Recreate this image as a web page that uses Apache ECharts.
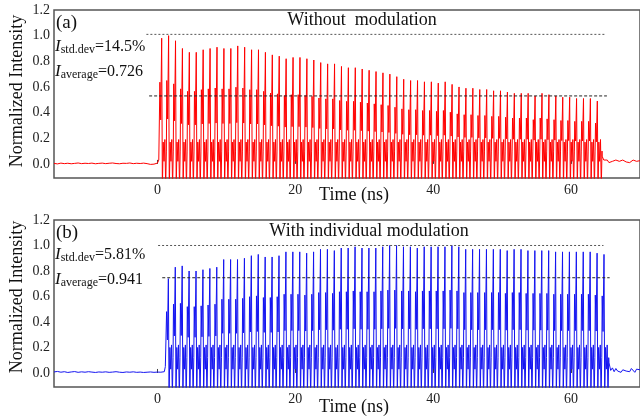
<!DOCTYPE html>
<html>
<head>
<meta charset="utf-8">
<script src="https://cdn.jsdelivr.net/npm/echarts@6/dist/echarts.min.js"></script>
<style>html,body{margin:0;padding:0;background:#fff}#main{width:640px;height:420px}</style>
</head>
<body>
<div id="main"></div>
<script>
// peak height of every pulse (64 per trace)
var peaksA = [0.98,1.00,0.96,0.90,0.87,0.87,0.89,0.90,0.91,0.90,0.90,0.92,0.91,0.89,0.89,0.87,0.85,0.84,0.82,0.83,0.83,0.82,0.81,0.79,0.78,0.78,0.76,0.75,0.75,0.74,0.73,0.72,0.71,
  0.70,0.68,0.66,0.65,0.65,0.64,0.64,0.63,0.64,0.62,0.60,0.59,0.59,0.58,0.58,0.57,0.57,0.56,0.55,0.55,0.55,0.53,0.55,0.54,0.53,0.52,0.52,0.51,0.51,0.51,0.49];
var peaksB = [0.74,0.83,0.84,0.80,0.80,0.81,0.82,0.83,0.89,0.89,0.89,0.90,0.92,0.93,0.91,0.91,0.92,0.95,0.95,0.95,0.94,0.95,0.97,0.97,0.96,0.98,0.98,0.99,0.98,0.98,0.98,0.99,
  1.00,1.00,0.99,0.99,0.98,0.99,0.99,0.99,0.99,1.00,0.99,0.97,0.97,0.97,0.97,0.97,0.97,0.96,0.97,0.97,0.96,0.96,0.96,0.96,0.95,0.95,0.95,0.95,0.95,0.95,0.94,0.93];
var firstPeakA = 0.62, firstPeakB = 1.59, pulsePeriod = 1.003;

// lighter side lobe on the rising edge of each pulse: offsets before the peak (ns), share of the peak
var lobeOffsets = [0.26, 0.14];
var lobeShares = [0.65, 0.35];
// what the trace does after each peak: offset after the peak (ns) and level
var shapeOffsets = [0.1, 0.22, 0.34, 0.46, 0.58, 0.68];
var shapeA = [-0.2, 0.17, 0.02, 0.19, -0.18, 0.10];
var shapeB = [-0.2, 0.20, 0.03, 0.22, -0.18, 0.12];

// baseline before the train, one value every 0.5 ns from -15 ns
var preA = [0.004,0.0,0.006,0.002,0.005,0.001,0.004,0.007,0.002,0.005,0.003,0.006,0.001,0.004,0.006,0.002,
  0.005,0.007,0.003,0.001,0.005,0.004,0.007,0.002,0.005,0.003,0.006,0.002,-0.004,-0.002,0.006];
var preB = [0.008,0.012,0.006,0.01,0.004,0.008,0.011,0.005,0.009,0.006,0.01,0.007,0.004,0.008,0.006,0.009,
  0.005,0.007,0.01,0.006,0.004,0.008,0.006,0.009,0.005,0.007,0.004,0.006,0.008,0.005,0.007,0.006,0.01];
// rising edge just before the first pulse
var edgeA = [[0.2, 0.03]];
var edgeB = [[1.05, 0.02], [1.15, 0.05], [1.3, 0.04]];
// baseline after the train, one value every 0.25 ns
var postStartA = 64.5;
var postA = [0.06,0.03,0.015,0.03,0.01,0.025,0.02,0.01,0.03,0.015,0.02,0.01,0.03,0.02,0.015,0.025,0.01,0.02,0.03,0.015,0.02,0.01,0.025];
var postStartB = 65.5;
var postB = [0.08,0.02,0.04,0.01,0.035,0.015,0.03,0.005,0.025,0.04,0.015,0.03,0.01,0.035,0.02,0.005,0.03,0.015,0.025];

// reference lines: [start ns, end ns, level]
var refA = [[-1.6, 64.9, 1.01], [-1.2, 65.2, 0.53]];
var refB = [[0.1, 64.7, 1.0], [0.7, 65.6, 0.747]];

var xTicks = [0, 20, 40, 60];
var yTicks = [0, 0.2, 0.4, 0.6, 0.8, 1.0, 1.2];

function buildTrace(pre, edge, peaks, t0, shape, postStart, post) {
  var d = [];
  pre.forEach(function (v, i) { d.push([-15 + i * 0.5, v]); });
  edge.forEach(function (p) { d.push(p); });
  peaks.forEach(function (p, i) {
    var t = t0 + i * pulsePeriod;
    lobeOffsets.forEach(function (o, k) { d.push([t - o, p * lobeShares[k]]); });
    d.push([t, p]);
    shapeOffsets.forEach(function (o, k) { d.push([t + o, shape[k]]); });
  });
  post.forEach(function (v, i) { d.push([postStart + i * 0.25, v]); });
  return d;
}

var traceA = buildTrace(preA, edgeA, peaksA, firstPeakA, shapeA, postStartA, postA);
var traceB = buildTrace(preB, edgeB, peaksB, firstPeakB, shapeB, postStartB, postB);

var FONT = 'Liberation Serif';

function xAxisOf(idx) {
  return {
    gridIndex: idx, type: 'value', min: -15, max: 70,
    axisLine: { show: false }, splitLine: { show: false },
    axisTick: { show: true, inside: true, length: 4, customValues: xTicks, lineStyle: { color: '#444' } },
    axisLabel: { customValues: xTicks, fontFamily: FONT, fontSize: 14, color: '#222', margin: 5 }
  };
}
function yAxisOf(idx) {
  return {
    gridIndex: idx, type: 'value', min: -0.11, max: 1.2,
    axisLine: { show: false }, splitLine: { show: false }, axisTick: { show: false },
    axisLabel: { customValues: yTicks, fontFamily: FONT, fontSize: 14, color: '#222', margin: 4,
      formatter: function (v) { return v.toFixed(1); } }
  };
}
function refSeries(lines, idx) {
  return lines.map(function (r, k) {
    return {
      type: 'line', xAxisIndex: idx, yAxisIndex: idx, showSymbol: false, silent: true,
      data: [[r[0], r[2]], [r[1], r[2]]],
      lineStyle: { color: k === 0 ? '#555' : '#222', width: 1, type: k === 0 ? [2, 2] : [3, 2] }
    };
  });
}

var rich = {
  i: { fontFamily: FONT, fontSize: 17, fontStyle: 'italic', color: '#111' },
  s: { fontFamily: FONT, fontSize: 12, color: '#111', verticalAlign: 'bottom', padding: [6, 0, 0, 0] },
  n: { fontFamily: FONT, fontSize: 16, color: '#111' }
};
function label(x, y, txt, size) {
  return { type: 'text', left: x, top: y, style: { text: txt, fontFamily: FONT, fontSize: size, fill: '#111' } };
}
function richLabel(x, y, txt) {
  return { type: 'text', left: x, top: y, style: { text: txt, rich: rich, fill: '#111' } };
}
function yName(cy) {
  return { type: 'text', x: 17, y: cy, rotation: Math.PI / 2,
    style: { text: 'Normalized Intensity', fontFamily: FONT, fontSize: 18, fill: '#111', align: 'center', verticalAlign: 'middle' } };
}
function centered(cx, cy, txt) {
  return { type: 'text', x: cx, y: cy,
    style: { text: txt, fontFamily: FONT, fontSize: 18, fill: '#111', align: 'center', verticalAlign: 'middle' } };
}

var chart = echarts.init(document.getElementById('main'));
chart.setOption({
  animation: false,
  backgroundColor: '#fff',
  grid: [
    { left: 54, top: 10, width: 588, height: 168, show: true, borderColor: '#555', borderWidth: 1.5 },
    { left: 54, top: 220, width: 588, height: 167, show: true, borderColor: '#555', borderWidth: 1.5 }
  ],
  xAxis: [xAxisOf(0), xAxisOf(1)],
  yAxis: [yAxisOf(0), yAxisOf(1)],
  series: [
    { type: 'line', xAxisIndex: 0, yAxisIndex: 0, data: traceA, showSymbol: false, silent: true,
      lineStyle: { color: '#ff0000', width: 1 } },
    { type: 'line', xAxisIndex: 1, yAxisIndex: 1, data: traceB, showSymbol: false, silent: true,
      lineStyle: { color: '#1414f0', width: 1 } }
  ].concat(refSeries(refA, 0), refSeries(refB, 1)),
  graphic: [
    yName(91), yName(297),
    centered(362, 20, 'Without  modulation'),
    centered(369, 231, 'With individual modulation'),
    centered(354, 195, 'Time (ns)'),
    centered(354, 407, 'Time (ns)'),
    label(56, 14, '(a)', 19),
    label(56, 224, '(b)', 19),
    richLabel(55, 38, '{i|I}{s|std.dev}{n|=14.5%}'),
    richLabel(55, 63, '{i|I}{s|average}{n|=0.726}'),
    richLabel(55, 246, '{i|I}{s|std.dev}{n|=5.81%}'),
    richLabel(55, 271, '{i|I}{s|average}{n|=0.941}')
  ]
});
</script>
</body>
</html>
